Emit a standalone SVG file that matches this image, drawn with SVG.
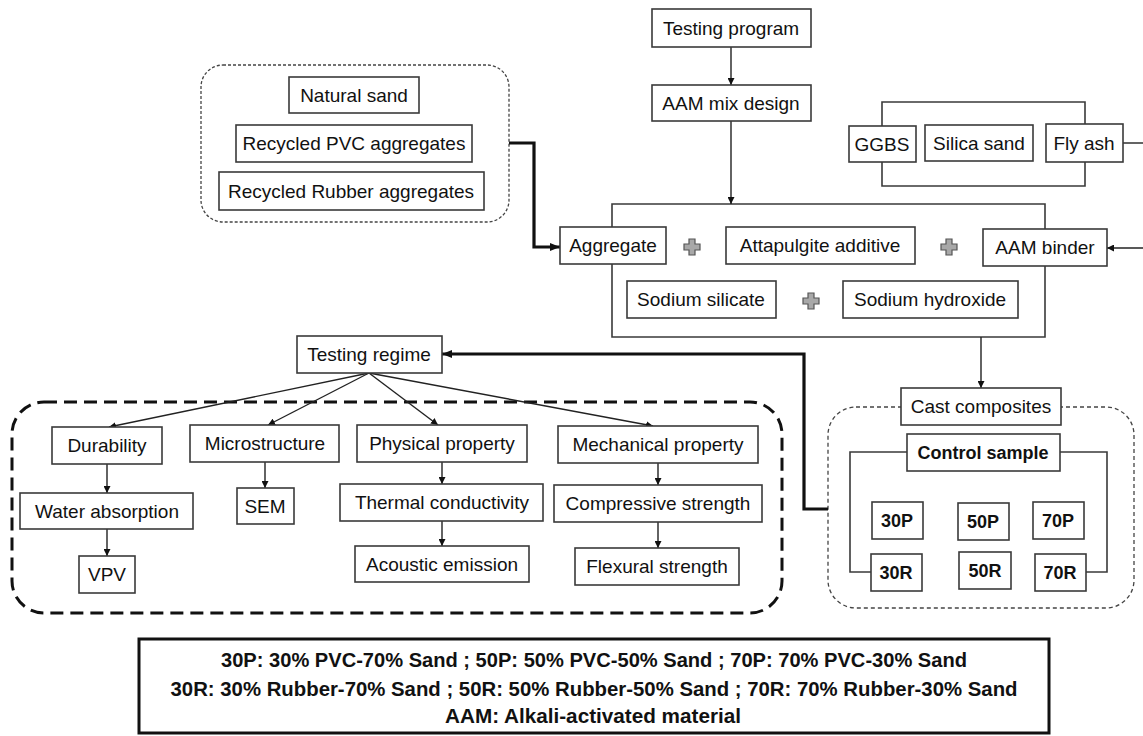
<svg xmlns="http://www.w3.org/2000/svg" width="1143" height="736" viewBox="0 0 1143 736">
<style>
.b{fill:#fff;stroke:#3a3a3a;stroke-width:1.6}
.t{font-family:"Liberation Sans",Arial,sans-serif;font-size:19px;fill:#111;text-anchor:middle}
.tb{font-family:"Liberation Sans",Arial,sans-serif;font-size:18px;font-weight:bold;fill:#111;text-anchor:middle}
.l{fill:none;stroke:#222;stroke-width:1.4}
.la{fill:none;stroke:#222;stroke-width:1.4;marker-end:url(#ah)}
.th{fill:none;stroke:#111;stroke-width:3.2;marker-end:url(#ahb)}
.br{fill:none;stroke:#3a3a3a;stroke-width:1.6}
.plus{fill:#a8a8a8;stroke:#555;stroke-width:1.2}
.lg{font-family:"Liberation Sans",Arial,sans-serif;font-size:21px;font-weight:bold;fill:#111;text-anchor:middle}
</style>
<defs>
<marker id="ah" viewBox="0 0 10 10" refX="10" refY="5" markerWidth="7" markerHeight="7" markerUnits="userSpaceOnUse" orient="auto"><path d="M0,0 L10,5 L0,10 z" fill="#111"/></marker>
<marker id="ahb" viewBox="0 0 10 10" refX="10" refY="5" markerWidth="10" markerHeight="10" markerUnits="userSpaceOnUse" orient="auto"><path d="M0,1 L10,5 L0,9 z" fill="#111"/></marker>
<path id="pl" d="M-3,-8 h6 v5 h5 v6 h-5 v5 h-6 v-5 h-5 v-6 h5 z"/>
</defs>
<rect width="1143" height="736" fill="#fff"/>

<g id="containers">
<rect x="201" y="65" width="308" height="157" rx="22" fill="none" stroke="#444" stroke-width="1.3" stroke-dasharray="3,2"/>
<rect x="12" y="402" width="770" height="211" rx="32" fill="none" stroke="#111" stroke-width="3" stroke-dasharray="13,7"/>
<rect x="828" y="407" width="306" height="201" rx="28" fill="none" stroke="#444" stroke-width="1.3" stroke-dasharray="4,3"/>
<path class="br" d="M612,227 V204 H1045 V229 M1045,266 V337 H612 V264"/>
<path class="br" d="M882,126 V102 H1085 V124 M882,162 V186 H1085 V162"/>
<path class="br" d="M907,452 H850 V572 H871 M1060,452 H1107 V572 H1086"/>
</g>

<g id="connectors">
<line class="la" x1="731" y1="47" x2="731" y2="85"/>
<line class="la" x1="731" y1="121" x2="731" y2="204"/>
<line class="l" x1="1123" y1="143" x2="1143" y2="143"/>
<line class="la" x1="1143" y1="248" x2="1107" y2="248"/>
<polyline class="th" points="509,143 534,143 534,247 560,247"/>
<line class="la" x1="981" y1="337" x2="981" y2="388"/>
<polyline class="th" points="828,509 804,509 804,354 442,354"/>
<line class="la" x1="369" y1="373" x2="109" y2="427"/>
<line class="la" x1="369" y1="373" x2="268" y2="425"/>
<line class="la" x1="369" y1="373" x2="438" y2="425"/>
<line class="la" x1="369" y1="373" x2="653" y2="426"/>
<line class="la" x1="107" y1="464" x2="107" y2="493"/>
<line class="la" x1="107" y1="529" x2="107" y2="556"/>
<line class="la" x1="265" y1="462" x2="265" y2="488"/>
<line class="la" x1="442" y1="462" x2="442" y2="484"/>
<line class="la" x1="442" y1="521" x2="442" y2="546"/>
<line class="la" x1="658" y1="463" x2="658" y2="485"/>
<line class="la" x1="658" y1="522" x2="658" y2="548"/>
</g>

<g id="plus-signs">
<use href="#pl" class="plus" x="692" y="247"/>
<use href="#pl" class="plus" x="949" y="247"/>
<use href="#pl" class="plus" x="811" y="301"/>
</g>

<g id="testing-program"><rect class="b" x="652" y="9" width="159" height="38"/><text class="t" x="731" y="35">Testing program</text></g>
<g id="aam-mix-design"><rect class="b" x="652" y="85" width="159" height="36"/><text class="t" x="731" y="110">AAM mix design</text></g>
<g id="natural-sand"><rect class="b" x="289" y="77" width="130" height="36"/><text class="t" x="354" y="102">Natural sand</text></g>
<g id="recycled-pvc"><rect class="b" x="236" y="125" width="236" height="37"/><text class="t" x="354" y="150">Recycled PVC aggregates</text></g>
<g id="recycled-rubber"><rect class="b" x="219" y="172" width="265" height="38"/><text class="t" x="351" y="198">Recycled Rubber aggregates</text></g>
<g id="ggbs"><rect class="b" x="849" y="126" width="67" height="36"/><text class="t" x="882" y="151">GGBS</text></g>
<g id="silica-sand"><rect class="b" x="925" y="125" width="108" height="36"/><text class="t" x="979" y="150">Silica sand</text></g>
<g id="fly-ash"><rect class="b" x="1046" y="124" width="77" height="38"/><text class="t" x="1084" y="150">Fly ash</text></g>
<g id="aggregate"><rect class="b" x="560" y="227" width="106" height="37"/><text class="t" x="613" y="252">Aggregate</text></g>
<g id="attapulgite"><rect class="b" x="726" y="227" width="189" height="37"/><text class="t" x="820" y="252">Attapulgite additive</text></g>
<g id="aam-binder"><rect class="b" x="983" y="229" width="124" height="37"/><text class="t" x="1045" y="254">AAM binder</text></g>
<g id="sodium-silicate"><rect class="b" x="627" y="281" width="149" height="37"/><text class="t" x="701" y="306">Sodium silicate</text></g>
<g id="sodium-hydroxide"><rect class="b" x="843" y="281" width="175" height="37"/><text class="t" x="930" y="306">Sodium hydroxide</text></g>
<g id="testing-regime"><rect class="b" x="297" y="336" width="145" height="37"/><text class="t" x="369" y="361">Testing regime</text></g>
<g id="durability"><rect class="b" x="52" y="427" width="110" height="37"/><text class="t" x="107" y="452">Durability</text></g>
<g id="microstructure"><rect class="b" x="190" y="425" width="149" height="37"/><text class="t" x="265" y="450">Microstructure</text></g>
<g id="physical-property"><rect class="b" x="357" y="425" width="170" height="37"/><text class="t" x="442" y="450">Physical property</text></g>
<g id="mechanical-property"><rect class="b" x="558" y="426" width="200" height="37"/><text class="t" x="658" y="451">Mechanical property</text></g>
<g id="water-absorption"><rect class="b" x="20" y="493" width="173" height="36"/><text class="t" x="107" y="518">Water absorption</text></g>
<g id="sem"><rect class="b" x="237" y="488" width="57" height="36"/><text class="t" x="265" y="513">SEM</text></g>
<g id="thermal-conductivity"><rect class="b" x="340" y="484" width="203" height="37"/><text class="t" x="442" y="509">Thermal conductivity</text></g>
<g id="compressive-strength"><rect class="b" x="554" y="485" width="208" height="37"/><text class="t" x="658" y="510">Compressive strength</text></g>
<g id="vpv"><rect class="b" x="79" y="556" width="56" height="37"/><text class="t" x="107" y="581">VPV</text></g>
<g id="acoustic-emission"><rect class="b" x="355" y="546" width="174" height="36"/><text class="t" x="442" y="571">Acoustic emission</text></g>
<g id="flexural-strength"><rect class="b" x="575" y="548" width="164" height="37"/><text class="t" x="657" y="573">Flexural strength</text></g>
<g id="cast-composites"><rect class="b" x="901" y="388" width="160" height="37"/><text class="t" x="981" y="413">Cast composites</text></g>
<g id="control-sample"><rect class="b" x="907" y="434" width="153" height="37"/><text class="tb" x="983" y="459">Control sample</text></g>
<g id="n30p"><rect class="b" x="872" y="502" width="51" height="37"/><text class="tb" x="897" y="527">30P</text></g>
<g id="n50p"><rect class="b" x="958" y="503" width="51" height="37"/><text class="tb" x="983" y="528">50P</text></g>
<g id="n70p"><rect class="b" x="1033" y="502" width="51" height="37"/><text class="tb" x="1058" y="527">70P</text></g>
<g id="n30r"><rect class="b" x="871" y="554" width="51" height="37"/><text class="tb" x="896" y="579">30R</text></g>
<g id="n50r"><rect class="b" x="959" y="552" width="52" height="37"/><text class="tb" x="985" y="577">50R</text></g>
<g id="n70r"><rect class="b" x="1035" y="554" width="51" height="37"/><text class="tb" x="1060" y="579">70R</text></g>

<g id="legend">
<rect x="139" y="639" width="910" height="94" fill="#fff" stroke="#111" stroke-width="3"/>
<text class="lg" x="594" y="667" textLength="746" lengthAdjust="spacingAndGlyphs">30P: 30% PVC-70% Sand ; 50P: 50% PVC-50% Sand ; 70P: 70% PVC-30% Sand</text>
<text class="lg" x="594" y="696" textLength="847" lengthAdjust="spacingAndGlyphs">30R: 30% Rubber-70% Sand ; 50R: 50% Rubber-50% Sand ; 70R: 70% Rubber-30% Sand</text>
<text class="lg" x="593" y="723" textLength="296" lengthAdjust="spacingAndGlyphs">AAM: Alkali-activated material</text>
</g>
</svg>
